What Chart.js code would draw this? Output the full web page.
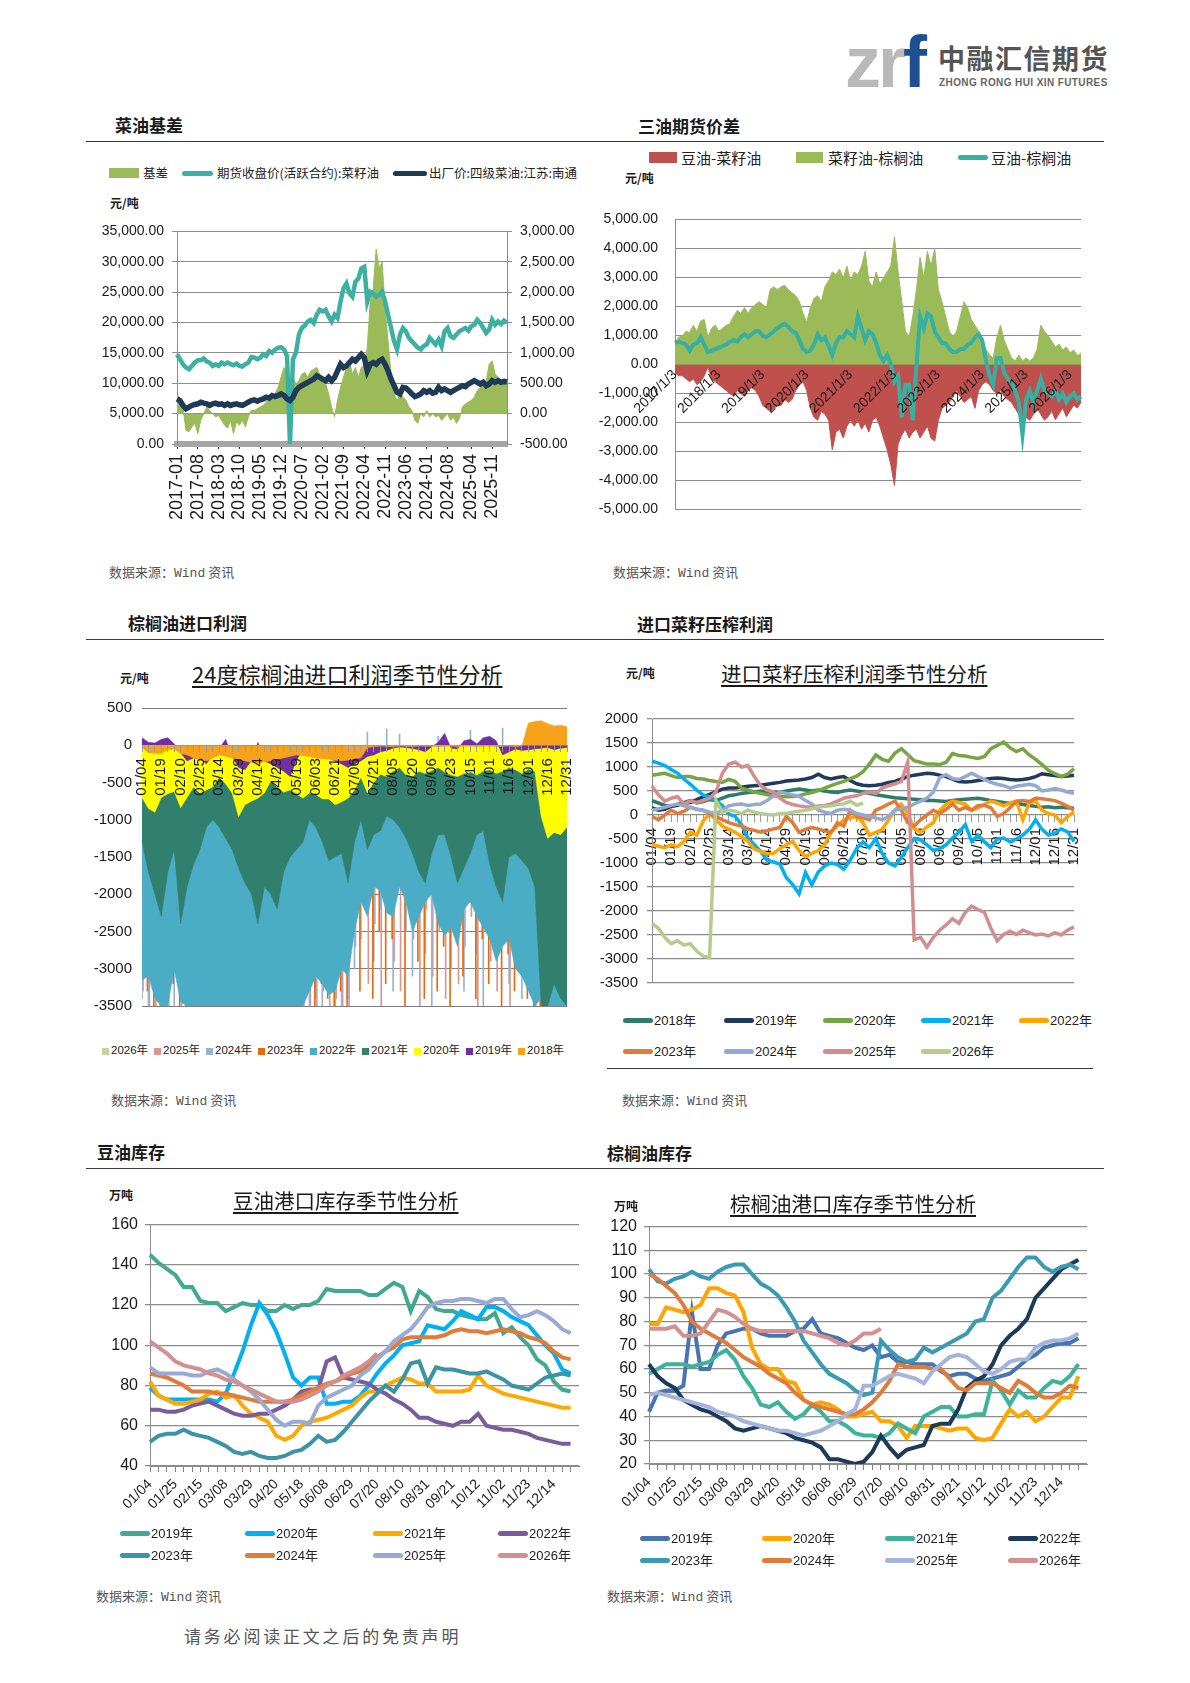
<!DOCTYPE html>
<html lang="zh-CN">
<head>
<meta charset="utf-8">
<title>油脂图表</title>
<script src="https://cdn.jsdelivr.net/npm/chart.js@4.4.1/dist/chart.umd.min.js"></script>
<style>
  body { margin: 0; background: #fff; }
  #page { position: relative; width: 1190px; height: 1683px; overflow: hidden; background: #fff;
          font-family: "Noto Sans CJK SC", sans-serif; color: #1a1a1a; }
  #page canvas { position: absolute; }
  .t { position: absolute; white-space: nowrap; line-height: 1; z-index: 2; }
  .sec { font-size: 17px; font-weight: 700; }
  .src { font-size: 13px; color: #555; }
  .src span { font-family: "Liberation Mono", monospace; }
  .unit { font-size: 12px; font-weight: 700; }
  .ct { font-size: 20.5px; text-decoration: underline; text-decoration-thickness: 1.5px; text-underline-offset: 3px; }
  .rule { position: absolute; height: 1px; background: #3a3a3a; }
  .lg { position: absolute; height: 20px; display: flex; align-items: center; white-space: nowrap; line-height: 1; z-index: 2;
        font-family: "Liberation Sans Narrow", "Liberation Sans", "Noto Sans CJK SC", sans-serif; color: #222; }
</style>
</head>
<body>
<div id="page">
  <!-- logo -->
  <div class="t" style="left:845px;top:26px;font-family:'Liberation Sans',Arial,sans-serif;font-weight:700;font-size:72px;letter-spacing:-3px;color:#b9b9b9">zr<span style="color:#1d4f91">f</span></div>
  <div class="t" style="left:938px;top:44px;font-size:27px;font-weight:700;color:#555;letter-spacing:1.5px">中融汇信期货</div>
  <div class="t" style="left:939px;top:78px;font-family:'Liberation Sans',Arial,sans-serif;font-size:10px;font-weight:700;color:#666;letter-spacing:0.4px">ZHONG RONG HUI XIN FUTURES</div>

  <!-- section titles & rules -->
  <div class="t sec" style="left:115px;top:116px">菜油基差</div>
  <div class="t sec" style="left:638px;top:117px">三油期货价差</div>
  <div class="rule" style="left:86px;top:141px;width:1018px"></div>
  <div class="t sec" style="left:128px;top:614px">棕榈油进口利润</div>
  <div class="t sec" style="left:637px;top:615px">进口菜籽压榨利润</div>
  <div class="rule" style="left:86px;top:639px;width:1018px"></div>
  <div class="rule" style="left:607px;top:1068px;width:486px"></div>
  <div class="t sec" style="left:97px;top:1143px">豆油库存</div>
  <div class="t sec" style="left:607px;top:1144px">棕榈油库存</div>
  <div class="rule" style="left:86px;top:1168px;width:1018px"></div>

  <!-- units -->
  <div class="t unit" style="left:110px;top:197px">元/吨</div>
  <div class="t unit" style="left:625px;top:172px">元/吨</div>
  <div class="t unit" style="left:120px;top:672px">元/吨</div>
  <div class="t unit" style="left:626px;top:667px">元/吨</div>
  <div class="t unit" style="left:109px;top:1189px">万吨</div>
  <div class="t unit" style="left:614px;top:1200px">万吨</div>

  <!-- chart titles -->
  <div class="t ct" style="left:192px;top:662px;font-size:22px">24度棕榈油进口利润季节性分析</div>
  <div class="t ct" style="left:721px;top:663px">进口菜籽压榨利润季节性分析</div>
  <div class="t ct" style="left:233px;top:1190px">豆油港口库存季节性分析</div>
  <div class="t ct" style="left:730px;top:1193px">棕榈油港口库存季节性分析</div>

  <!-- sources -->
  <div class="t src" style="left:109px;top:565px">数据来源：<span>Wind</span> 资讯</div>
  <div class="t src" style="left:613px;top:565px">数据来源：<span>Wind</span> 资讯</div>
  <div class="t src" style="left:111px;top:1093px">数据来源：<span>Wind</span> 资讯</div>
  <div class="t src" style="left:622px;top:1093px">数据来源：<span>Wind</span> 资讯</div>
  <div class="t src" style="left:96px;top:1589px">数据来源：<span>Wind</span> 资讯</div>
  <div class="t src" style="left:607px;top:1589px">数据来源：<span>Wind</span> 资讯</div>

  <div class="t" style="left:184px;top:1627px;font-size:17px;color:#555;letter-spacing:2.8px">请务必阅读正文之后的免责声明</div>
</div>

<script>
// ---------- 菜油基差 (monthly, 2017-01 .. 2026-04) ----------
const monthCats = [];
for (let y = 2017; y <= 2026; y++) {
  for (let m = 1; m <= 12; m++) {
    if (monthCats.length < 112) monthCats.push(y + '-' + String(m).padStart(2, '0'));
  }
}
const c1TickLabels = ['2017-01','2017-08','2018-03','2018-10','2019-05','2019-12','2020-07','2021-02',
  '2021-09','2022-04','2022-11','2023-06','2024-01','2024-08','2025-04','2025-11'];
const c1Futures = [14760,13945,13131,12590,12320,12860,13400,13780,13780,14100,
  13565,13400,12860,13131,12860,13400,13131,13400,13131,12960,
  13230,12860,12750,13131,13400,14320,14220,13945,14220,14760,
  14490,15300,15030,15570,15840,15950,15570,14490,0,13945,
  15030,18000,19100,19530,20180,20450,19910,21270,22080,21810,
  22080,21000,20180,21270,20730,23440,25610,26425,24800,24250,
  26700,27240,28870,29140,23440,25070,24800,24250,24525,25070,
  23440,21270,19100,16930,15570,18010,19100,18560,17470,16930,
  16390,15840,15570,16115,16390,17470,16930,16390,17200,16115,
  18560,19100,17740,17470,18010,18560,18830,19100,18670,19370,
  19640,20450,19910,19100,18290,18830,20450,19640,20180,19750,
  20300,19900];
const c1Spot = [7430,7160,6350,5800,6080,6350,6510,6620,6890,6730,
  6620,6350,6620,6730,6510,6620,6350,6620,6350,6510,
  6620,6460,6350,6620,6890,7160,7270,7050,7270,7430,
  7700,7540,7980,7810,7980,8250,7980,7430,7160,7700,
  8790,9330,9600,9875,10150,10420,10690,11230,10960,10690,
  10420,10960,10420,10960,12045,13130,12590,12860,13400,13945,
  13670,14220,14760,14220,12045,13130,13400,13130,13670,13945,
  13130,12045,10690,9600,8520,8250,9330,9220,8790,8250,
  7810,7980,8250,8790,8520,8790,8360,8520,9330,8790,
  9060,8790,8520,8790,9060,9330,9600,9440,9875,10150,
  10420,10150,9875,10150,9600,9875,10420,10150,10420,10150,
  10300,10200];
const c1Basis = [320,250,100,-270,-300,-220,-160,-330,-110,0,
  110,50,0,-55,-30,-110,-190,-240,-110,-330,
  -140,-190,-110,-220,-55,55,50,80,110,135,
  190,220,270,330,430,600,760,650,540,600,
  490,540,650,680,600,700,730,760,650,600,
  490,330,110,-55,220,430,600,760,870,650,
  760,600,760,810,1090,1840,2060,2710,2390,2500,
  1740,1190,650,330,220,330,270,220,110,55,
  -110,-160,0,-55,50,-55,0,-55,-30,-110,
  -55,0,-110,-55,-160,-80,110,160,190,220,
  270,380,430,490,540,810,870,650,600,490,
  540,500];
const c1Names = ['基差','期货收盘价(活跃合约):菜籽油','出厂价:四级菜油:江苏:南通'];
const c1Colors = ['#9bbb59','#3db1a1','#1f3a57'];

// ---------- 三油期货价差 ----------
const c2YearTicks = ['2017/1/3','2018/1/3','2019/1/3','2020/1/3','2021/1/3','2022/1/3','2023/1/3','2024/1/3','2025/1/3','2026/1/3'];
const c2SoyRape = [-286,-388,-388,-490,-593,-490,-695,-593,-388,-82,
  -490,-593,-695,-797,-900,-1000,-1100,-900,-1000,-1100,
  -900,-797,-900,-1100,-1410,-1512,-1615,-1512,-1410,-1410,
  -1206,-1308,-1206,-900,-695,-593,-900,-1512,-1820,-1920,
  -1615,-1717,-1920,-2940,-2330,-2230,-2535,-2125,-1920,-2125,
  -1920,-2230,-2024,-2330,-1920,-1820,-2125,-2535,-2940,-3455,
  -4170,-2740,-2430,-2230,-2535,-2330,-2230,-2535,-2330,-2125,
  -2535,-2637,-1920,-1512,-1410,-1308,-1100,-900,-1100,-1308,
  -1206,-1100,-1512,-900,-695,-593,-695,-900,-1000,-900,
  -1100,-1206,-1308,-1512,-1717,-1920,-1820,-1920,-1717,-1512,
  -1717,-1920,-1800,-1600,-1900,-1700,-1500,-1800,-1600,-1400,
  -1500,-1300];
const c2RapePalm = [736,940,990,1145,1100,1350,1145,1500,1550,940,
  1250,1350,1145,1250,1350,1400,1655,1860,1760,1960,
  1760,1960,2065,2166,2065,1960,2575,2680,2575,2680,
  2730,2575,2470,2370,2166,1760,1450,1960,2270,2370,
  2166,2680,2880,3190,3090,3290,2985,3390,2880,3190,
  3090,3390,3900,2880,2680,3190,2780,2985,3190,3390,
  4400,3190,2166,1145,940,1655,2575,3700,2985,3900,
  3390,4000,2575,2166,1655,1145,940,1145,1655,2166,
  1960,1550,1350,1145,838,530,327,225,940,1350,
  838,530,225,123,327,123,225,123,225,530,
  1350,1145,1000,800,600,700,500,600,400,500,
  300,400];
const c2SoyPalm = [736,787,736,685,480,685,736,940,685,430,
  480,531,583,634,685,787,838,787,940,1042,
  940,1042,1145,1145,990,940,1042,1145,1247,1350,
  1400,1298,1145,1093,838,531,430,480,685,1042,
  838,940,634,327,736,940,940,1145,1042,940,
  1655,1247,838,1145,1042,736,327,123,327,20,
  -593,-388,-1820,-695,-695,-1920,-82,1655,1247,1757,
  1655,1145,940,736,736,531,430,430,531,531,
  685,736,940,1042,838,123,-388,-695,225,225,
  -286,-490,-593,-900,-1308,-2430,-1206,-900,-1308,-900,
  -490,-900,-1000,-1100,-900,-1200,-1000,-1300,-1100,-1000,
  -1200,-1100];
const c2Names = ['豆油-菜籽油','菜籽油-棕榈油','豆油-棕榈油'];
const c2Colors = ['#c0504d','#9bbb59','#35b0a3'];

// ---------- seasonal daily axis (棕榈油进口利润 / 进口菜籽压榨利润) ----------
const dayTicks = ['01/04','01/19','02/10','02/25','03/14','03/29','04/14','04/29','05/19','06/03','06/21','07/06',
  '07/21','08/05','08/20','09/06','09/23','10/15','11/01','11/16','12/01','12/16','12/31'];

// 棕榈油进口利润
const c3Names = ['2026年','2025年','2024年','2023年','2022年','2021年','2020年','2019年','2018年'];
const c3Colors = ['#c3d69b','#d99694','#95b3d7','#e46c0a','#4bacc6','#31806e','#ffff00','#7030a0','#f7a21b'];
const c3y2026 = [-300,-350,-320,-300,-280,-300];
const c3y2025 = [-3300,-3500,-3500,-3400,-3500,-3000,-3500,-3500,-3500,-3300,-3500,
  -3500,-3500,-3500,-3500,-3500,-3500,-3500,-3500,-3500,-3500,-3500,
  -3500,-3500,-3500,-3500,-3500,-3500,-3300,-3500,-3400,-3500,-3500,
  -2700,-2000,-3200,-2400,-3500,-2100,-2900,-3300,-1800,-2600,-3500,
  -2200,-3100,-2500,-3400,-2000,-3200,-2700,-2300,-3500,-2100,-2900,
  -3300,-2600,-3500,-2000,-3100,-2700,-3500,-3500,-3500,-3500,-3500,-3500];
const c3y2024 = [-3400,-3500,-3200,-3500,-3500,-3500,-3300,-3500,-3500,-3500,-3400,
  -3500,-3500,-3500,-3500,-3500,-3500,-3500,-3500,-3500,-3500,-3500,
  -3500,-3500,-3500,-3500,-3500,-3400,-3500,-3300,-3500,-3500,-3400,
  -3000,-2600,180,-2900,-2200,220,-3300,150,-2500,-3100,-2300,
  -2800,-3500,120,-2100,-3000,-2600,-3300,200,-2800,-3500,-2300,
  -2700,230,-3200,-2400,-3400,-2900,-3500,-3500,-3500,-3500,-3500,-3500];
const c3y2023 = [-3500,-3300,-3500,-3500,-3400,-3200,-3500,-3500,-3450,-3500,-3500,
  -3500,-3500,-3500,-3500,-3500,-3500,-3500,-3500,-3500,-3500,-3500,
  -3500,-3500,-3500,-3500,-3300,-3500,-3200,-3400,-3500,-3300,-3500,
  -2300,-3300,-2100,-3400,-2500,-3200,-2600,-1700,-3500,-2200,-2900,
  -3400,-2000,-3300,-2700,-3500,-2400,-3100,-2000,-3400,-2600,-3200,
  -2300,-3500,-2800,-3300,-2500,-3400,-3500,-3500,-3500,-3500,-3500,-3500];
const c3y2022 = [-3150,-3100,-3400,-3500,-3500,-3000,-3450,-3500,-3500,-3500,-3500,
  -3500,-3500,-3500,-3500,-3500,-3500,-3500,-3500,-3500,-3500,-3500,
  -3500,-3500,-3500,-3500,-3300,-3100,-3200,-3350,-3300,-3000,-3100,
  -2500,-2100,-2300,-1900,-1950,-2250,-2300,-1900,-2100,-2500,-2300,
  -2100,-2000,-2400,-2550,-2450,-2700,-2200,-2100,-2300,-2450,-2600,
  -2900,-2700,-2600,-3000,-3100,-3300,-3500,-3400,-3500,-3500,-3500,-3500];
const c3y2021 = [-1300,-1700,-2000,-2300,-1700,-1400,-2400,-1900,-1600,-1400,-1100,
  -1000,-1100,-1250,-1400,-1650,-1850,-2000,-2400,-1900,-2000,-2200,
  -1700,-1500,-1400,-1300,-1000,-1100,-1300,-1550,-1500,-1450,-1850,
  -1300,-1000,-1400,-1200,-1150,-950,-1000,-1100,-1250,-1450,-1700,
  -1850,-1450,-1200,-1200,-1500,-1850,-1650,-1450,-1200,-1150,-1600,
  -1900,-2100,-1500,-1450,-1550,-1650,-1900,-3500,-3500,-3200,-3400,-3500];
const c3y2020 = [-700,-850,-900,-700,-650,-620,-840,-700,-560,-640,-600,
  -560,-430,-520,-640,-960,-800,-750,-710,-640,-480,-560,
  -630,-600,-650,-710,-640,-660,-720,-720,-800,-760,-710,
  -600,-430,-640,-500,-390,-420,-350,-300,-400,-420,-350,
  -380,-340,-300,-360,-400,-420,-380,-360,-400,-350,-330,
  -380,-350,-300,-330,-380,-320,-350,-960,-1250,-1170,-1200,-1100];
const c3y2019 = [100,40,30,80,100,20,-100,-210,-170,-180,-250,
  -120,-40,80,-150,-300,-330,-200,40,-210,-250,-300,
  -350,-420,-200,-50,-100,-130,-160,-170,-210,-250,-300,
  -250,-210,-150,-130,-90,-70,-40,-25,-30,-45,-60,
  -90,-20,40,160,-40,-50,60,80,20,100,120,
  60,-130,-90,-50,-70,-60,-50,-40,-30,-60,-40,-30];
const c3y2018 = [-30,-100,-110,-110,-60,-50,-110,-130,-170,-190,-210,
  -170,-130,-150,-170,-190,-210,-230,-250,-220,-210,-190,
  -170,-150,-130,-140,-150,-170,-180,-190,-200,-210,-200,
  -180,-170,-30,-20,-10,-15,-20,-10,-15,-20,-10,
  -15,-10,-20,-15,-10,-20,-15,-10,-20,-15,-10,
  -20,-15,-10,-20,-10,300,320,330,290,260,270,250];

// 进口菜籽压榨利润
const c4Names = ['2018年','2019年','2020年','2021年','2022年','2023年','2024年','2025年','2026年'];
const c4Colors = ['#2e7d6b','#1f3a5a','#77a543','#00b0f0','#ffa500','#e07b39','#95aad3','#d28e8e','#b5cc8e'];
const c4y2018 = [300,250,200,180,220,260,300,250,280,320,300,
  350,400,420,450,470,480,500,480,460,470,500,
  520,540,520,500,520,500,480,470,500,520,500,
  480,450,420,400,380,360,350,340,330,320,300,
  300,290,280,300,320,330,340,350,330,300,280,
  260,240,250,220,200,180,160,170,150,160,150,140];
const c4y2019 = [150,100,120,180,200,250,260,320,380,430,480,
  540,560,560,580,600,610,620,640,660,680,710,
  720,730,750,780,850,780,750,780,800,720,650,
  620,610,620,640,680,700,750,800,830,850,870,
  860,830,800,750,700,690,700,720,740,760,770,
  760,740,730,740,760,800,860,840,820,800,810,830];
const c4y2020 = [830,850,870,820,780,800,800,760,750,720,700,
  680,740,700,560,520,480,450,420,400,390,380,
  385,400,440,470,510,560,610,660,700,760,810,
  900,1060,1250,1160,1120,1290,1380,1260,1130,1100,1060,
  1060,1050,1100,1280,1240,1230,1200,1180,1220,1380,1450,
  1520,1400,1320,1380,1250,1160,1050,930,860,800,850,960];
const c4y2021 = [1120,1080,1030,950,870,750,640,520,420,380,300,
  200,20,-30,-200,-480,-620,-760,-940,-980,-1020,-1300,
  -1450,-1640,-1200,-1450,-1190,-1060,-1000,-1030,-1130,-940,-700,
  -560,-680,-490,-800,-1000,-1060,-880,-680,-490,-520,-620,
  -740,-700,-620,-480,-360,-200,-550,-420,-560,-680,-500,
  -480,-560,-500,-420,-300,-100,-300,-420,-380,-290,-350,-550];
const c4y2022 = [-620,-650,-680,-620,-660,-550,-360,-420,-130,30,-100,
  -230,-300,-360,-450,-550,-710,-760,-810,-800,-700,-620,
  -550,-740,-870,-800,-740,-620,-360,-230,-100,-60,-35,
  -160,-420,-360,-300,-100,100,225,30,-290,-360,-250,
  -160,100,225,290,260,225,100,150,225,290,250,
  190,250,290,-100,250,290,100,30,0,-160,-35,65];
const c4y2023 = [-30,-100,0,100,30,80,160,120,100,30,-30,
  -100,-160,-200,-230,-290,-320,-360,-330,-290,-260,-30,
  -160,-360,-300,-260,-290,-330,-360,-160,-230,100,-30,
  -60,-100,100,160,230,290,100,-160,-230,-100,0,
  100,30,120,230,100,160,100,200,200,150,-30,
  30,150,290,300,280,350,340,320,300,250,180,100];
const c4y2024 = [100,130,160,200,230,190,160,120,100,60,30,
  100,190,220,230,200,220,230,300,400,480,450,
  420,390,300,230,100,60,30,100,120,100,30,
  0,-30,-60,-100,-30,100,130,160,230,290,350,
  480,780,840,760,740,800,870,800,740,680,640,
  610,560,600,620,640,610,500,520,550,520,480,450];
const c4y2025 = [600,420,290,350,380,230,290,260,300,350,480,
  870,1060,1100,1000,1030,800,610,520,480,350,260,
  220,190,170,160,190,200,230,290,350,380,400,
  450,480,450,560,610,650,700,1100,-2600,-2550,-2750,
  -2550,-2400,-2290,-2160,-2260,-2030,-1900,-1970,-2030,-2360,-2620,
  -2490,-2420,-2490,-2400,-2450,-2500,-2480,-2520,-2450,-2500,-2400,-2330];
const c4y2026 = [-2260,-2360,-2550,-2680,-2620,-2710,-2680,-2840,-2940,-2970,
  300,60,100,80,30,100,60,30,10,0,
  30,30,60,80,100,130,160,180,190,220,
  230,290,200,250];

// ---------- weekly seasonal axis (库存) ----------
const weekTicks = ['01/04','01/25','02/15','03/08','03/29','04/20','05/18','06/08','06/29','07/20',
  '08/10','08/31','09/21','10/12','11/02','11/23','12/14'];

// 豆油港口库存
const c5Names = ['2019年','2020年','2021年','2022年','2023年','2024年','2025年','2026年'];
const c5Colors = ['#41a98f','#00b0f0','#ffa800','#7a5c9b','#3b93a7','#e07b39','#97abd6','#d4908f'];
const c5y2019 = [145,141,138,135,129,129,122,121,121,117,
  119,121,120,120,117,117,120,118,120,120,
  122,128,127,127,127,127,125,125,128,131,
  129,117,127,124,118,117,117,115,114,113,
  113,116,106,109,104,100,93,90,82,78,77,77];
const c5y2020 = [79,75,73,73,73,73,73,73,72,76,
  86,97,110,121,115,107,96,84,80,84,
  84,71,71,72,72,75,80,86,91,95,
  100,101,102,110,109,108,112,117,115,113,
  119,119,117,114,112,110,105,100,96,88,86,85];
const c5y2021 = [82,75,73,71,71,72,73,76,77,74,
  75,70,66,64,62,55,53,55,60,62,
  63,64,66,68,70,74,77,77,80,82,
  84,83,81,81,77,77,77,77,78,85,
  80,78,76,75,74,73,72,71,70,69,69,68];
const c5y2022 = [68,68,67,67,68,70,71,72,70,68,
  66,65,65,66,66,68,70,73,77,78,
  78,92,94,84,83,82,81,78,76,73,
  71,68,64,64,62,61,60,62,62,66,
  60,59,58,58,57,56,54,53,52,51,51,51];
const c5y2023 = [52,55,56,56,58,56,55,54,52,50,
  47,46,47,45,44,44,45,47,48,51,
  55,52,53,57,62,67,72,76,80,77,
  83,91,92,81,89,88,88,87,86,86,
  87,85,83,80,79,78,81,84,85,86,85,85];
const c5y2024 = [86,85,84,82,80,77,77,77,76,76,
  75,74,73,72,72,72,72,73,75,77,
  79,81,82,84,86,87,90,94,97,99,
  103,104,104,104,104,105,107,108,107,107,
  106,107,108,107,106,104,103,101,97,94,93,93];
const c5y2025 = [89,86,86,86,86,85,85,87,88,86,
  83,80,77,73,68,63,60,62,62,61,
  70,74,76,78,80,85,88,93,97,102,
  105,108,113,119,121,122,122,123,123,122,
  121,123,123,118,114,115,117,115,112,108,106,104];
const c5y2026 = [102,99,96,92,90,89,88,86,85,83,
  82,80,78,76,74,72,72,72,73,75,
  77,80,82,85,87,89,92,96];

// 棕榈油港口库存
const c6Names = ['2019年','2020年','2021年','2022年','2023年','2024年','2025年','2026年'];
const c6Colors = ['#4775b2','#ffa500','#3cb39a','#1e3a5a','#3a9ab3','#e07b39','#a3b5dc','#d4908f'];
const c6y2019 = [42,50,51,51,53,84,60,60,70,75,
  76,77,77,75,74,74,74,76,77,81,
  75,74,73,71,69,68,70,65,66,63,
  63,62,62,62,59,57,58,58,56,55,
  56,57,58,61,64,66,69,70,71,71,73,74];
const c6y2020 = [79,79,86,85,84,85,87,94,94,92,
  91,84,69,62,60,60,55,54,47,45,
  46,45,43,40,40,41,42,38,38,36,
  31,36,36,36,35,34,35,35,31,30,
  31,37,43,40,42,38,40,44,48,48,57,58];
const c6y2021 = [58,60,62,62,62,61,62,63,66,68,
  64,57,52,45,44,46,42,39,41,45,
  42,38,38,36,33,32,32,31,33,37,
  35,33,40,42,44,44,40,40,41,41,
  55,51,45,51,48,48,52,55,54,57,62,65];
const c6y2022 = [62,57,54,52,47,45,43,42,40,38,
  35,34,35,36,35,34,33,31,30,29,
  27,22,22,21,20,21,25,32,27,23,
  26,27,28,36,37,37,43,52,55,57,
  62,70,74,77,81,90,94,98,102,104,106,107];
const c6y2023 = [102,97,96,98,99,101,99,98,101,103,
  104,104,100,96,94,91,86,80,72,67,
  62,58,56,54,51,49,50,72,68,65,
  63,64,69,67,69,71,73,75,80,81,
  90,93,98,103,107,107,103,101,103,104,102,100];
const c6y2024 = [100,98,95,92,87,80,77,75,73,71,
  68,65,63,61,58,56,54,50,47,45,
  44,43,42,41,41,43,46,50,55,62,
  61,61,61,60,60,56,52,51,54,54,
  54,52,50,55,53,50,48,48,50,53,52,52];
const c6y2025 = [49,50,49,48,47,46,45,44,42,41,
  40,38,37,36,35,34,34,33,32,33,
  34,36,38,41,43,53,53,55,57,58,
  57,56,54,59,62,65,66,65,62,59,
  58,60,63,64,64,69,71,72,72,73,75,76];
const c6y2026 = [77,77,77,78,74,74,75,80,85,84,
  82,79,77,76,76,76,76,76,76,75,
  74,73,71,70,72,75,75,77];

// ---------- helpers ----------
const page = document.getElementById('page');
const NARROW = '"Liberation Sans Narrow","Liberation Sans",Arial,sans-serif';
const SANS = '"Liberation Sans",Arial,sans-serif';
const GRID = '#8c8c8c';

Chart.defaults.font.family = NARROW;
Chart.defaults.color = '#1a1a1a';

function canvasAt(l, t, w, h) {
  const c = document.createElement('canvas');
  c.width = w; c.height = h;
  c.style.left = l + 'px'; c.style.top = t + 'px';
  c.style.width = w + 'px'; c.style.height = h + 'px';
  page.appendChild(c);
  return c;
}

function baseOpts(padRight) {
  return {
    responsive: false, animation: false, events: [],
    layout: { padding: { top: 14, left: 2, right: padRight, bottom: 2 } },
    plugins: { legend: { display: false }, tooltip: { enabled: false } },
    elements: { point: { radius: 0 }, line: { tension: 0 } }
  };
}

const fmt2 = v => Number(v).toLocaleString('en-US', { minimumFractionDigits: 2, maximumFractionDigits: 2 });
const plain = v => String(v);

function legendItem(x, y, kind, color, text, size, sw, gap, family) {
  const d = document.createElement('div');
  d.className = 'lg';
  d.style.left = x + 'px'; d.style.top = (y - 10) + 'px'; d.style.fontSize = size + 'px';
  if (family) d.style.fontFamily = family;
  const m = document.createElement('span');
  const h = kind === 'line' ? 5 : (kind === 'box' ? 10 : (kind === 'rect' ? 11 : 7));
  m.style.cssText = 'display:inline-block;flex:none;width:' + sw + 'px;height:' + h + 'px;background:' + color +
    ';margin-right:' + gap + 'px;' + (kind === 'line' ? 'border-radius:3px;' : '');
  d.appendChild(m);
  d.appendChild(document.createTextNode(text));
  page.appendChild(d);
}
const CJK = '"Noto Sans CJK SC",sans-serif';

// ---------- chart 1: 菜油基差 ----------
new Chart(canvasAt(87, 215, 495, 326), {
  type: 'line',
  data: {
    labels: monthCats,
    datasets: [
      { label: c1Names[2], data: c1Spot, yAxisID: 'y', borderColor: c1Colors[2], borderWidth: 5.5, order: 1 },
      { label: c1Names[1], data: c1Futures, yAxisID: 'y', borderColor: c1Colors[1], borderWidth: 4.5, order: 2 },
      { label: c1Names[0], data: c1Basis, yAxisID: 'y1', borderColor: c1Colors[0], backgroundColor: c1Colors[0],
        borderWidth: 1, fill: 'origin', order: 3 }
    ]
  },
  options: Object.assign(baseOpts(0), {
    scales: {
      x: {
        ticks: { autoSkip: false, minRotation: 90, maxRotation: 90, padding: 3, font: { family: SANS, size: 18 },
          callback: (v, i) => c1TickLabels.includes(monthCats[i]) ? monthCats[i] : null },
        grid: { drawOnChartArea: false, tickLength: 7, tickColor: '#333', tickBorderDash: [2, 2] },
        border: { display: true, color: '#a6a6a6', width: 6 },
        afterFit: s => { s.height = 95; }
      },
      y: {
        position: 'left', min: 0, max: 35000,
        ticks: { stepSize: 5000, callback: fmt2, font: { size: 14 }, padding: 8 },
        grid: { color: GRID, tickLength: 5 }, border: { color: GRID },
        afterFit: s => { s.width = 88; }
      },
      y1: {
        position: 'right', min: -500, max: 3000,
        ticks: { stepSize: 500, callback: fmt2, font: { size: 14 }, padding: 8 },
        grid: { drawOnChartArea: false, tickLength: 5, color: GRID }, border: { color: GRID },
        afterFit: s => { s.width = 75; }
      }
    }
  })
});
legendItem(109, 173, 'box', c1Colors[0], c1Names[0], 12.5, 30, 4, CJK);
legendItem(182, 173, 'line', c1Colors[1], c1Names[1], 12.5, 31, 4, CJK);
legendItem(393, 173, 'line', c1Colors[2], c1Names[2], 12.5, 34, 2, CJK);

// ---------- chart 2: 三油期货价差 ----------
new Chart(canvasAt(588, 194, 507, 341), {
  type: 'line',
  data: {
    labels: monthCats,
    datasets: [
      { label: c2Names[2], data: c2SoyPalm, borderColor: c2Colors[2], borderWidth: 4, order: 1 },
      { label: c2Names[1], data: c2RapePalm, borderColor: c2Colors[1], backgroundColor: c2Colors[1], borderWidth: 1, fill: 'origin', order: 2 },
      { label: c2Names[0], data: c2SoyRape, borderColor: c2Colors[0], backgroundColor: c2Colors[0], borderWidth: 1, fill: 'origin', order: 3 }
    ]
  },
  options: Object.assign(baseOpts(14), {
    scales: {
      x: {
        position: { y: 0 },
        ticks: { z: 1, autoSkip: false, minRotation: 45, maxRotation: 45, padding: 2, font: { family: SANS, size: 14 },
          callback: (v, i) => (i % 12 === 0) ? c2YearTicks[i / 12] : null },
        grid: { drawOnChartArea: false, drawTicks: false }, border: { display: false }
      },
      y: {
        min: -5000, max: 5000,
        ticks: { stepSize: 1000, callback: fmt2, font: { size: 14 }, padding: 17 },
        grid: { color: GRID, drawTicks: false }, border: { color: GRID },
        afterFit: s => { s.width = 85; }
      }
    }
  })
});
legendItem(649, 157, 'rect', c2Colors[0], c2Names[0], 15, 28, 4, CJK);
legendItem(796, 157, 'rect', c2Colors[1], c2Names[1], 15, 27, 5, CJK);
legendItem(958, 157, 'line', c2Colors[2], c2Names[2], 15, 30, 3, CJK);

// ---------- chart 3: 棕榈油进口利润 ----------
const dayCats = [];
for (let i = 0; i < 67; i++) dayCats.push(i % 3 === 0 ? dayTicks[i / 3] : '');

const c3Data = [c3y2026, c3y2025, c3y2024, c3y2023, c3y2022, c3y2021, c3y2020, c3y2019, c3y2018];
const c3Order = [4, 9, 8, 7, 6, 5, 3, 2, 1];
const c3Bars = [false, true, true, true, false, false, false, false, false];
new Chart(canvasAt(85, 689, 506, 336), {
  type: 'line',
  data: {
    labels: dayCats,
    datasets: c3Data.map((d, k) => c3Bars[k]
      ? { type: 'bar', label: c3Names[k], data: d, backgroundColor: c3Colors[k], barThickness: 1, borderWidth: 0, order: c3Order[k] }
      : { type: 'line', label: c3Names[k], data: d, borderColor: c3Colors[k], backgroundColor: c3Colors[k], borderWidth: 0.5, fill: 'origin', order: c3Order[k] })
  },
  options: Object.assign(baseOpts(14), {
    scales: {
      x: {
        position: { y: 0 }, offset: false,
        ticks: { z: 1, autoSkip: false, minRotation: 90, maxRotation: 90, padding: 6, font: { family: SANS, size: 15 },
          callback: (v, i) => dayCats[i] },
        grid: { z: 1, drawOnChartArea: false, offset: false, tickLength: 7, tickColor: '#9a9a9a' }, border: { display: false }
      },
      y: {
        min: -3500, max: 500,
        ticks: { stepSize: 500, callback: plain, font: { size: 15 }, padding: 10 },
        grid: { color: '#7f7f7f', drawTicks: false }, border: { display: false },
        afterFit: s => { s.width = 55; }
      }
    }
  })
});
c3Names.forEach((n, k) => legendItem(102 + k * 52, 1051, 'sq', c3Colors[k], n, 11.5, 7, 2));

// ---------- chart 4: 进口菜籽压榨利润 ----------
const c4Data = [c4y2018, c4y2019, c4y2020, c4y2021, c4y2022, c4y2023, c4y2024, c4y2025, c4y2026];
new Chart(canvasAt(595, 701, 503, 300), {
  type: 'line',
  data: {
    labels: dayCats,
    datasets: c4Data.map((d, k) => ({ label: c4Names[k], data: d, borderColor: c4Colors[k], borderWidth: 3.5, order: -k }))
  },
  options: Object.assign(baseOpts(12), {
    scales: {
      x: {
        position: { y: 0 },
        ticks: { autoSkip: false, minRotation: 90, maxRotation: 90, padding: 6, font: { family: SANS, size: 15 },
          callback: (v, i) => dayCats[i] },
        grid: { drawOnChartArea: false, tickLength: 7, tickColor: '#9a9a9a' }, border: { display: false }
      },
      y: {
        min: -3500, max: 2000,
        ticks: { stepSize: 500, callback: plain, font: { size: 15 }, padding: 9 },
        grid: { color: GRID, lineWidth: 1.3, tickLength: 5 }, border: { color: GRID },
        afterFit: s => { s.width = 55; }
      }
    }
  })
});
const c4Cols = [623, 724, 823, 921, 1019];
c4Names.forEach((n, k) => legendItem(c4Cols[k % 5], k < 5 ? 1020 : 1051, 'line', c4Colors[k], n, 13, 30, 1));

// ---------- chart 5 & 6: 库存 ----------
const weekCats = [];
for (let i = 0; i < 52; i++) weekCats.push(i % 3 === 0 ? weekTicks[i / 3] : '');

function stockChart(l, t, w, h, data, names, colors, min, max, step) {
  new Chart(canvasAt(l, t, w, h), {
    type: 'line',
    data: {
      labels: weekCats,
      datasets: data.map((d, k) => ({ label: names[k], data: d, borderColor: colors[k], borderWidth: 4, order: -k }))
    },
    options: Object.assign(baseOpts(12), {
      scales: {
        x: {
          ticks: { autoSkip: false, minRotation: 45, maxRotation: 45, padding: 4, font: { family: SANS, size: 14 },
            callback: (v, i) => weekCats[i] },
          grid: { drawOnChartArea: false, tickLength: 6, tickColor: '#7f7f7f' }, border: { color: GRID },
          afterFit: s => { s.height = 62; }
        },
        y: {
          min: min, max: max,
          ticks: { stepSize: step, font: { size: 16 }, padding: 7 },
          grid: { color: GRID, lineWidth: 1.3, tickLength: 5 }, border: { color: GRID },
          afterFit: s => { s.width = 45; }
        }
      }
    })
  });
}
stockChart(103, 1208, 488, 322, [c5y2019, c5y2020, c5y2021, c5y2022, c5y2023, c5y2024, c5y2025, c5y2026],
  c5Names, c5Colors, 40, 160, 20);
stockChart(602, 1210, 497, 318, [c6y2019, c6y2020, c6y2021, c6y2022, c6y2023, c6y2024, c6y2025, c6y2026],
  c6Names, c6Colors, 20, 120, 10);

const c5Cols = [120, 245, 373, 498];
c5Names.forEach((n, k) => legendItem(c5Cols[k % 4], k < 4 ? 1533 : 1555, 'line', c5Colors[k], n, 13, 30, 1));
const c6Cols = [640, 762, 885, 1008];
c6Names.forEach((n, k) => legendItem(c6Cols[k % 4], k < 4 ? 1538 : 1560, 'line', c6Colors[k], n, 13, 30, 1));
</script>
</body>
</html>
